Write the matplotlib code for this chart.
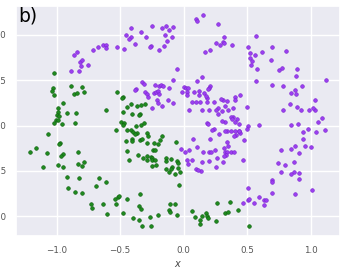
import numpy as np
import seaborn as sns
from matplotlib import pyplot as plt

sns.set_theme(style="darkgrid")

# upper moon (purple)
purple_x = [-0.634, -0.608, -0.610, -0.676, -0.710, -0.865, -0.839, -0.813, -0.797, -0.807, -0.752, -0.888, -0.825,
            0.154, 0.098, 0.104, 0.274, -0.250, -0.413, -0.169, -0.140, -0.114, -0.080, -0.332, -0.450, -0.411,
            -0.431, -0.298, -0.143, -0.088, -0.130, -0.380, -0.521, -0.471, -0.254, -0.264, -0.193, -0.151,
            0.256, 0.285, 0.211, 0.167, -0.049, -0.080, 0.148, 0.104, -0.329, -0.313, -0.224, -0.193, -0.177,
            -0.159, -0.112, -0.376, 0.004, 0.020, 0.033, 0.209, 0.201, 0.191,
            0.569, 0.319, 0.313, 0.321, 0.380, 0.508, 0.526, 0.561, 0.618, 0.699, 0.805, 0.524, 0.539, 0.534,
            0.581, 0.689, 0.754, 0.776, 0.894, 0.883, 0.569, 0.699, 0.786, 0.933, 1.122,
            -0.382, -0.306, -0.290, -0.277, -0.230, -0.214, -0.198, -0.191, -0.211, -0.198, -0.124, -0.169,
            -0.080, -0.248, -0.014, 0.030, 0.025, 0.080, 0.120, 0.161, 0.124, 0.183, 0.175, 0.065, 0.101, 0.132,
            0.183, 0.240, 0.043, 0.143, 0.203, 0.274, 0.256, 0.269, 0.183, 0.193, 0.243, 0.224, 0.280, 0.209,
            0.072, -0.022, 0.014, 0.046, 0.104, 0.156, 0.203, 0.217, 0.248, 0.025, 0.067, 0.038, 0.148, 0.203,
            0.261, 0.096, 0.140, 0.114, 0.256,
            0.502, 0.406, 0.443, 0.406, 0.340, 0.313, 0.293, 0.327, 0.392, 0.353, 0.301, 0.387, 0.374, 0.382,
            0.419, 0.403, 0.437, 0.506, 0.498, 0.594, 0.327, 0.301, 0.345, 0.372, 0.403, 0.411, 0.435, 0.445,
            0.439, 0.329, 0.398, 0.479, 0.345, 0.353, 0.319, 0.327, 0.340, 0.372, 0.400, 0.335, 0.319, 0.466,
            0.313, 0.844, 0.883, 0.878, 0.839, 0.786, 0.891, 0.925, 0.991, 1.038, 1.020, 1.038, 1.091, 1.059,
            0.849, 0.904, 0.939, 0.980, 1.041, 1.114, 0.939, 0.959, 1.006, 0.876, 0.844, 0.765, 0.909, 0.868,
            0.742, 0.797, 0.768, 0.872, 0.909, 0.846, 0.912,
            0.508, 0.694, 0.699, 0.699, 0.880, 1.014, 0.508, 0.518, 0.471, 0.553, 0.594, 0.631, 0.650, 0.634]
purple_y = [0.887, 0.892, 0.859, 0.870, 0.836, 0.781, 0.814, 0.707, 0.726, 0.652, 0.663, 0.597, 0.597,
            1.219, 1.171, 1.157, 1.119, 1.097, 1.075, 1.075, 1.097, 1.053, 1.091, 1.031, 0.998, 0.983,
            0.958, 0.980, 0.998, 0.983, 0.928, 0.895, 0.862, 0.848, 0.876, 0.862, 0.836, 0.881,
            0.906, 0.887, 0.829, 0.814, 0.622, 0.508, 0.538, 0.490, 0.483, 0.464, 0.453, 0.442, 0.445,
            0.442, 0.409, 0.406, 0.428, 0.417, 0.417, 0.434, 0.417, 0.406,
            0.994, 0.980, 0.920, 0.909, 0.884, 0.870, 0.803, 0.777, 0.810, 0.870, 0.821, 0.744, 0.715, 0.666,
            0.622, 0.729, 0.615, 0.633, 0.627, 0.549, 0.490, 0.450, 0.439, 0.439, 0.505,
            0.394, 0.372, 0.346, 0.313, 0.354, 0.372, 0.383, 0.346, 0.287, 0.246, 0.280, 0.218,
            0.254, 0.199, 0.365, 0.365, 0.335, 0.372, 0.379, 0.361, 0.339, 0.309, 0.328, 0.265, 0.257, 0.262,
            0.265, 0.262, 0.166, 0.173, 0.166, 0.191, 0.166, 0.122, 0.030, 0.014, -0.036, -0.052, -0.096, -0.144,
            -0.151, -0.254, -0.295, -0.269, -0.240, -0.291, -0.291, -0.291, -0.265, -0.379, -0.379, -0.420, -0.398, -0.387,
            -0.361, -0.483, -0.497, -0.494, -0.453,
            0.202, 0.320, 0.339, 0.280, 0.269, 0.280, 0.295, 0.221, 0.196, 0.169, 0.158, 0.096, 0.096, 0.074,
            0.074, 0.044, 0.019, -0.008, -0.036, 0.003, 0.041, 0.055, -0.055, -0.063, -0.059, -0.110, -0.055, -0.081,
            -0.063, -0.063, -0.118, -0.158, -0.180, -0.221, -0.251, -0.287, -0.291, -0.287, -0.287, -0.324, -0.339, -0.376,
            -0.401, 0.357, 0.346, 0.390, 0.243, 0.173, 0.202, 0.177, 0.169, 0.177, 0.191, 0.287, 0.081, 0.041,
            0.008, 0.019, -0.074, -0.036, -0.066, -0.052, -0.144, -0.221, -0.232, -0.229, -0.257, -0.273, -0.302, -0.398,
            -0.409, -0.431, -0.516, -0.516, -0.523, -0.534, -0.589,
            -0.685, -0.600, -0.627, -0.744, -0.755, -0.715, -0.821, -0.807, -0.854, -0.859, -0.792, -0.818, -0.821, -0.876]

# lower moon (green)
green_x = [-1.017, -1.028, -0.888, -0.802,
           -1.038, -1.017, -0.865, -0.841, -0.783, -0.946, -0.986, -0.988, -0.998, -0.980, -0.915, -0.849,
           -1.004, -0.986, -1.020, -0.954, -0.852, -0.608, -1.067, -0.972, -0.983, -1.164, -1.211, -1.077,
           -0.831, -0.946, -0.967, -0.828, -0.786, -0.799, -1.104, -0.988, -0.946, -0.915, -0.825, -0.663,
           -0.912, -0.852, -0.797, -0.687, -0.610, -0.731, -0.723, -0.634, -0.600,
           -0.526, -0.479, -0.482, -0.443, -0.416, -0.364, -0.337, -0.306, -0.345, -0.353, -0.403, -0.479,
           -0.494, -0.466, -0.476, -0.531, -0.443, -0.416, -0.398, -0.372, -0.335, -0.311, -0.364, -0.384,
           -0.406, -0.403, -0.453, -0.343, -0.324, -0.285, -0.282, -0.290, -0.167, -0.185, -0.201, -0.230,
           -0.243, -0.224, -0.059, -0.443, -0.356, -0.317, -0.285, -0.258, -0.246, -0.290, -0.250, -0.224,
           -0.217, -0.140, -0.101, -0.138, -0.049, -0.043, -0.429, -0.250, -0.088, -0.098, -0.140, -0.041,
           -0.112, -0.025, -0.065,
           -0.539, -0.518, -0.508, -0.534, -0.445, -0.340, -0.479, -0.395, -0.350, -0.337, -0.348, -0.327,
           -0.261, -0.258, -0.198, -0.106, -0.065, -0.112, -0.106, -0.049, -0.035, 0.065, 0.093, 0.130,
           0.143, 0.128, 0.175, 0.187, 0.193, 0.256, 0.266,
           0.369, 0.324, 0.353, 0.427, 0.516]
green_y = [0.575, 0.417, 0.442, 0.431,
           0.379, 0.335, 0.350, 0.361, 0.372, 0.251, 0.196, 0.147, 0.118, 0.107, 0.133, 0.140,
           0.066, 0.059, 0.030, 0.022, 0.025, 0.173, -0.099, -0.191, -0.202, -0.251, -0.287, -0.306,
           -0.287, -0.313, -0.339, -0.420, -0.406, -0.445, -0.456, -0.434, -0.461, -0.567, -0.582, -0.582,
           -0.685, -0.733, -0.744, -0.671, -0.619, -0.865, -0.909, -0.870, -0.980,
           0.372, 0.320, 0.306, 0.210, 0.235, 0.218, 0.229, 0.243, 0.129, 0.118, 0.129, 0.147,
           0.044, 0.030, 0.003, -0.044, -0.052, -0.052, -0.070, 0.000, 0.008, 0.025, -0.088, -0.099,
           -0.151, -0.173, -0.173, -0.155, -0.147, -0.081, -0.118, -0.191, -0.118, -0.158, -0.202, -0.196,
           -0.265, -0.269, -0.185, -0.284, -0.320, -0.357, -0.339, -0.346, -0.361, -0.379, -0.383, -0.376,
           -0.434, -0.354, -0.365, -0.390, -0.387, -0.412, -0.383, -0.442, -0.453, -0.478, -0.478, -0.472,
           -0.512, -0.516, -0.534,
           -0.807, -0.788, -0.773, -0.865, -0.807, -0.759, -0.969, -1.020, -0.892, -0.917, -1.046, -1.113,
           -1.006, -1.105, -0.991, -0.870, -0.862, -0.931, -0.950, -0.983, -0.652, -0.947, -1.009, -1.046,
           -1.002, -1.086, -0.969, -0.994, -1.020, -1.057, -0.854,
           -0.843, -0.969, -0.954, -0.931, -1.108]

xticks = [-1.0, -0.5, 0.0, 0.5, 1.0]
yticks = [-1.0, -0.5, 0.0, 0.5, 1.0]

fig = plt.figure(figsize=(3.47, 2.75), dpi=100)
ax = fig.add_axes([16 / 347, 39 / 275, 324 / 347, 230 / 275])

ax.scatter(purple_x, purple_y, s=7, color="#9b3ff0", edgecolors="#7a22d0", linewidths=0.4, zorder=3)
ax.scatter(green_x, green_y, s=7, color="#1f8a1f", edgecolors="#0b5e0b", linewidths=0.4, zorder=3)

ax.set_xlim(-1.319, 1.232)
ax.set_ylim(-1.22, 1.32)
ax.set_xticks(xticks)
ax.set_yticks(yticks)
ax.tick_params(axis="both", labelsize=6.3, colors="#555555", length=0)
ax.tick_params(axis="x", pad=7)
ax.tick_params(axis="y", pad=7)
ax.grid(color="white", linewidth=1.0)
ax.set_xlabel("$x$", fontsize=7, color="#444444", labelpad=3)

fig.text(18 / 347, 1 - 7 / 275, "b)", fontsize=13.5, va="top", ha="left", color="black")

plt.savefig("out.png", dpi=100)
